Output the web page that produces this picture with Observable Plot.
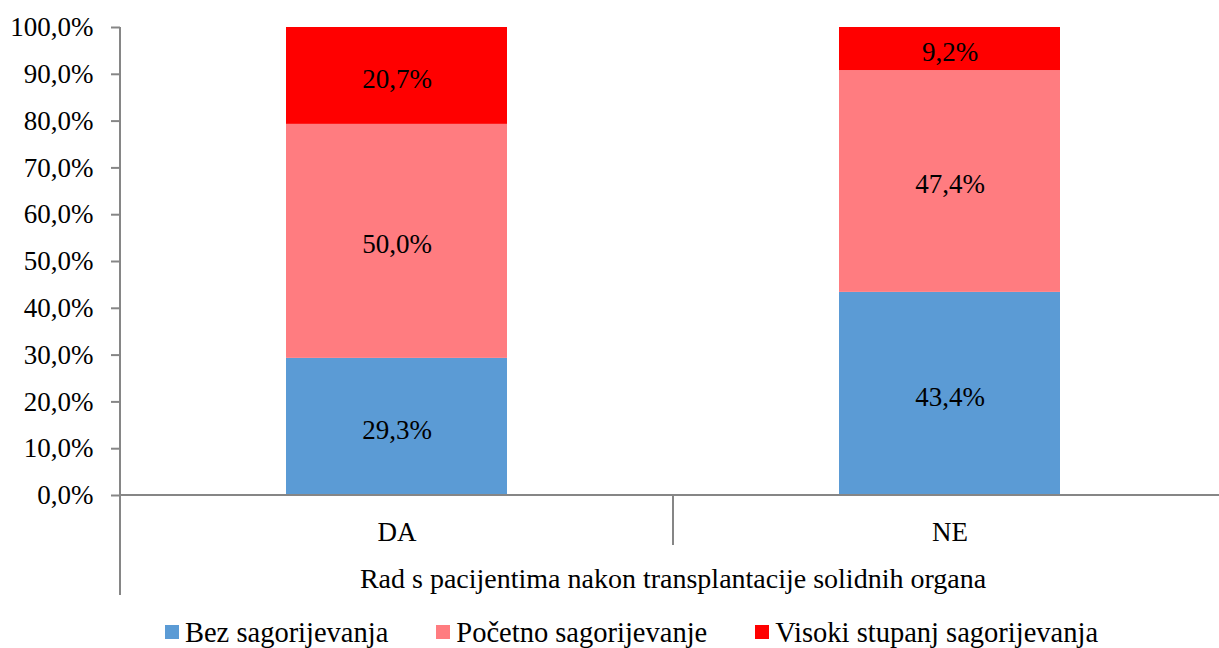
<!DOCTYPE html>
<html>
<head>
<meta charset="utf-8">
<script src="https://cdn.jsdelivr.net/npm/d3@7"></script>
<script src="https://cdn.jsdelivr.net/npm/@observablehq/plot@0.6"></script>
</head>
<body style="margin:0;background:#fff;font-family:'Liberation Serif', serif;overflow:hidden">
<div id="chart"></div>
<div id="legend" style="display:flex;justify-content:center;align-items:center;height:36px;margin-top:3px;font-size:28.5px;color:#000;padding-left:44px;font-family:'Liberation Serif', serif"></div>
<script>
const categories = ["DA", "NE"];
const seriesNames = ["Bez sagorijevanja", "Početno sagorijevanje", "Visoki stupanj sagorijevanja"];
const bezValues = [29.3, 43.4];
const pocetnoValues = [50.0, 47.4];
const visokiValues = [20.7, 9.2];
const yTicks = [0, 10, 20, 30, 40, 50, 60, 70, 80, 90, 100];
const colors = ["#5B9BD5", "#FF7C80", "#FF0000"];
const axisTitle = "Rad s pacijentima nakon transplantacije solidnih organa";

const seriesValues = [bezValues, pocetnoValues, visokiValues];
const data = [];
seriesNames.forEach((s, si) => categories.forEach((c, ci) => data.push({cat: c, series: s, value: seriesValues[si][ci]})));

const FONT = "Liberation Serif";
const fmt = v => v.toFixed(1).replace(".", ",") + "%";
const W = 1219, H = 612;
const gray = "#868686";

const decor = (index, scales, values, dims) => {
  const ns = "http://www.w3.org/2000/svg";
  const g = document.createElementNS(ns, "g");
  const x = scales.x, y = scales.y;
  const step = x.step ? x.step() : 0;
  const y0 = y(0), yTop = y(100);
  const line = (x1, y1, x2, y2) => {
    const l = document.createElementNS(ns, "line");
    l.setAttribute("x1", x1); l.setAttribute("y1", y1);
    l.setAttribute("x2", x2); l.setAttribute("y2", y2);
    l.setAttribute("stroke", gray); l.setAttribute("stroke-width", 2);
    g.appendChild(l);
  };
  const left = x(categories[0]) + x.bandwidth() / 2 - step / 2;
  line(left, yTop, left, y0 + 100);
  categories.slice(1).forEach(c => {
    const b = x(c) + x.bandwidth() / 2 - step / 2;
    line(b, y0, b, y0 + 50);
  });
  line(left, y0, dims.width, y0);
  const last = x(categories[categories.length - 1]) + x.bandwidth() / 2 + step / 2;
  const t = document.createElementNS(ns, "text");
  t.setAttribute("x", (left + last) / 2);
  t.setAttribute("y", y0 + 83);
  t.setAttribute("text-anchor", "middle");
  t.setAttribute("dy", "0.35em");
  t.setAttribute("font-size", 28);
  t.setAttribute("font-family", FONT);
  t.setAttribute("fill", "#000");
  t.textContent = axisTitle;
  g.appendChild(t);
  return g;
};

const chart = Plot.plot({
  width: W,
  height: H,
  marginTop: 27,
  marginBottom: H - 495,
  marginLeft: 120,
  marginRight: 0,
  style: {fontFamily: FONT, fontSize: "27px", color: "#000", background: "#fff"},
  x: {domain: categories, range: [120, 1226], paddingInner: 0.6, paddingOuter: 0.3, label: null},
  y: {domain: [0, 100], label: null},
  color: {domain: seriesNames, range: colors},
  marks: [
    Plot.barY(data, Plot.stackY({x: "cat", y: "value", fill: "series", order: seriesNames})),
    Plot.text(data, Plot.stackY({x: "cat", y: "value", z: "series", order: seriesNames, text: d => fmt(d.value), fill: "#000", fontSize: 27, fontFamily: FONT, dy: 3})),
    Plot.axisY({ticks: yTicks, tickFormat: fmt, tickSize: 9, tickPadding: 18, stroke: gray, strokeWidth: 2, fontSize: 27, fontFamily: FONT, label: null, fill: "#000"}),
    Plot.axisX({tickSize: 0, tickPadding: 26, fontSize: 27, fontFamily: FONT, label: null, fill: "#000"}),
    decor
  ]
});
chart.querySelectorAll("text").forEach(t => t.setAttribute("font-family", FONT));
document.getElementById("chart").appendChild(chart);

const legend = document.getElementById("legend");
seriesNames.forEach((s, i) => {
  const item = document.createElement("div");
  item.style.cssText = "display:flex;align-items:center;margin:0 24px;font-family:'Liberation Serif', serif";
  const sw = document.createElement("div");
  sw.style.cssText = "width:14px;height:14px;margin-right:6px;margin-top:-2px;background:" + colors[i];
  const label = document.createElement("span");
  label.textContent = s;
  item.appendChild(sw);
  item.appendChild(label);
  legend.appendChild(item);
});
</script>
</body>
</html>
